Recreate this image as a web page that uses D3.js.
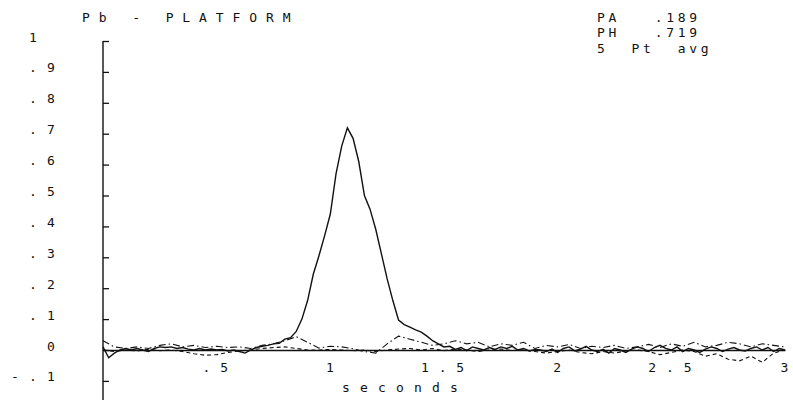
<!DOCTYPE html>
<html lang="en">
<head>
    <meta charset="UTF-8">
    <title>Pb - PLATFORM</title>
    <script src="https://d3js.org/d3.v7.min.js"></script>
    <style>
        body { margin: 0; background: #fff; }
        text { font-family: "DejaVu Sans Mono", monospace; font-size: 13px; fill: #111; white-space: pre; }
        .trace { fill: none; stroke: #111; }
    </style>
</head>
<body>
    <div id="chart"></div>

    <script>
        // time grids (seconds)
        const timesFine = d3.range(121).map(i => i * 0.025);
        const timesCoarse = d3.range(61).map(i => i * 0.05);

        // peak absorbance signal, 0.025 s steps
        const signal = [
            0.01, -0.025, -0.01, 0.0, 0.005, 0.0, 0.005, 0.0, -0.005, 0.005,
            0.01, 0.008, 0.01, 0.005, 0.008, 0.003, 0.0, 0.005, 0.0, 0.003,
            0.0, 0.002, -0.003, 0.0, -0.005, -0.01, 0.0, 0.008, 0.012, 0.015,
            0.02, 0.022, 0.035, 0.04, 0.06, 0.1, 0.16, 0.245, 0.305, 0.37,
            0.44, 0.57, 0.66, 0.719, 0.685, 0.61, 0.5, 0.455, 0.39, 0.31,
            0.23, 0.16, 0.097, 0.082, 0.074, 0.065, 0.058, 0.045, 0.03, 0.02,
            0.01, 0.012, 0.002, 0.008, -0.002, 0.01, 0.005, 0.0, 0.008, 0.002,
            0.01, 0.005, 0.012, 0.0, 0.005, -0.003, 0.002, 0.0, -0.005, 0.003,
            -0.008, 0.005, 0.01, -0.003, 0.003, 0.012, 0.0, -0.005, 0.002, -0.01,
            0.005, 0.0, -0.008, 0.003, 0.01, 0.005, -0.005, 0.008, 0.015, 0.005,
            0.0, 0.01, -0.005, 0.005, 0.0, -0.008, 0.003, 0.01, 0.005, -0.005,
            0.003, 0.008, 0.0, -0.003, 0.005, 0.01, 0.0, 0.008, -0.005, 0.005,
            0.0
        ];

        // background trace (dash-dot), 0.05 s steps
        const background = [
            0.03, 0.01, 0.005, 0.01, 0.005, 0.015, 0.02, 0.01, 0.015, 0.008,
            0.012, 0.008, 0.01, 0.005, 0.015, 0.02, 0.03, 0.043, 0.025, 0.006,
            0.012, 0.01, 0.004, -0.005, -0.01, 0.02, 0.045, 0.035, 0.025, 0.015,
            0.02, 0.03, 0.02, 0.025, 0.01, 0.02, 0.015, 0.025, 0.005, 0.015,
            0.01, 0.018, 0.005, 0.012, 0.008, 0.015, 0.005, 0.01, 0.018, 0.008,
            0.02, 0.012, 0.025, 0.01, 0.015, 0.025, 0.02, 0.01, 0.02, 0.015,
            0.01
        ];

        // third trace (dashed), 0.05 s steps
        const reference = [
            0.0, -0.005, 0.0, -0.003, 0.002, -0.002, 0.0, -0.005, -0.012, -0.017,
            -0.015, -0.008, -0.003, 0.0, 0.005, 0.008, 0.01, 0.005, 0.0, 0.0,
            0.002, 0.0, -0.002, 0.0, -0.005, 0.0, 0.003, 0.005, 0.0, 0.005,
            -0.002, 0.003, 0.0, -0.005, 0.0, 0.003, -0.002, 0.0, -0.005, -0.01,
            -0.005, 0.0, -0.008, -0.012, -0.005, -0.01, -0.003, 0.0, -0.005, -0.015,
            -0.008, 0.0, -0.005, -0.02, -0.012, -0.03, -0.035, -0.02, -0.04, -0.01,
            0.0
        ];

        const yTicks = [1, 0.9, 0.8, 0.7, 0.6, 0.5, 0.4, 0.3, 0.2, 0.1, 0, -0.1];
        const yTickLabels = [" 1", " .9", " .8", " .7", " .6", " .5", " .4", " .3", " .2", " .1", "  0", "-.1"];
        const xTicks = [0.5, 1, 1.5, 2, 2.5, 3];
        const xTickLabels = [".5", "1", "1.5", "2", "2.5", "3"];
        const infoLines = ["PA   .189", "PH   .719", "5  Pt  avg"];

        const width = 793;
        const height = 400;

        const svg = d3.select("#chart")
            .append("svg")
            .attr("width", width)
            .attr("height", height);

        const x = d3.scaleLinear().domain([0, 3]).range([103, 785]);
        const y = d3.scaleLinear().domain([0, 1]).range([350, 41]);

        // title + info block
        svg.append("text")
            .attr("x", 82)
            .attr("y", 22)
            .style("letter-spacing", "8.9px")
            .text("Pb - PLATFORM");

        svg.append("g")
            .selectAll("text")
            .data(infoLines)
            .enter().append("text")
            .attr("x", 597)
            .attr("y", (d, i) => [22, 37, 53][i])
            .style("letter-spacing", "3.7px")
            .text(d => d);

        // y axis: ticks point inward, labels far left
        const yAxis = svg.append("g")
            .attr("transform", "translate(103,0)")
            .call(d3.axisLeft(y)
                .tickValues(yTicks)
                .tickSize(-6)
                .tickFormat((d, i) => yTickLabels[i]));
        yAxis.select(".domain").remove();
        yAxis.selectAll(".tick line").attr("stroke", "#111").attr("stroke-width", 1.3);
        yAxis.selectAll("text")
            .attr("x", -92)
            .attr("dy", 0)
            .attr("text-anchor", "start")
            .style("font-family", "DejaVu Sans Mono, monospace")
            .style("font-size", "13px")
            .style("letter-spacing", "10.2px");

        svg.append("line")
            .attr("x1", 103).attr("x2", 103)
            .attr("y1", y(1)).attr("y2", height)
            .attr("stroke", "#111")
            .attr("stroke-width", 1.4);

        // x axis along zero line
        const xAxis = svg.append("g")
            .attr("transform", `translate(0,${y(0)})`)
            .call(d3.axisBottom(x)
                .tickValues(xTicks)
                .tickSize(0)
                .tickFormat((d, i) => xTickLabels[i]));
        xAxis.select(".domain").attr("stroke", "#111").attr("stroke-width", 1.4);
        xAxis.selectAll("text")
            .attr("y", 22)
            .attr("dy", 0)
            .attr("dx", (d, i) => xTickLabels[i].length > 1 ? 3 : -1)
            .style("font-family", "DejaVu Sans Mono, monospace")
            .style("font-size", "13px")
            .style("letter-spacing", (d, i) => xTickLabels[i].length > 1 ? "9.9px" : "0px");

        svg.append("text")
            .attr("x", 400)
            .attr("dx", 5)
            .attr("y", 392)
            .attr("text-anchor", "middle")
            .style("letter-spacing", "10.2px")
            .text("seconds");

        // traces
        const line = d3.line()
            .x(d => x(d[0]))
            .y(d => y(d[1]));

        svg.append("path")
            .datum(d3.zip(timesCoarse, reference))
            .attr("class", "trace")
            .attr("stroke-width", 1.1)
            .attr("stroke-dasharray", "4,3")
            .attr("d", line);

        svg.append("path")
            .datum(d3.zip(timesCoarse, background))
            .attr("class", "trace")
            .attr("stroke-width", 1.1)
            .attr("stroke-dasharray", "7,3,1.5,3")
            .attr("d", line);

        svg.append("path")
            .datum(d3.zip(timesFine, signal))
            .attr("class", "trace")
            .attr("stroke-width", 1.4)
            .attr("d", line);
    </script>
</body>
</html>
